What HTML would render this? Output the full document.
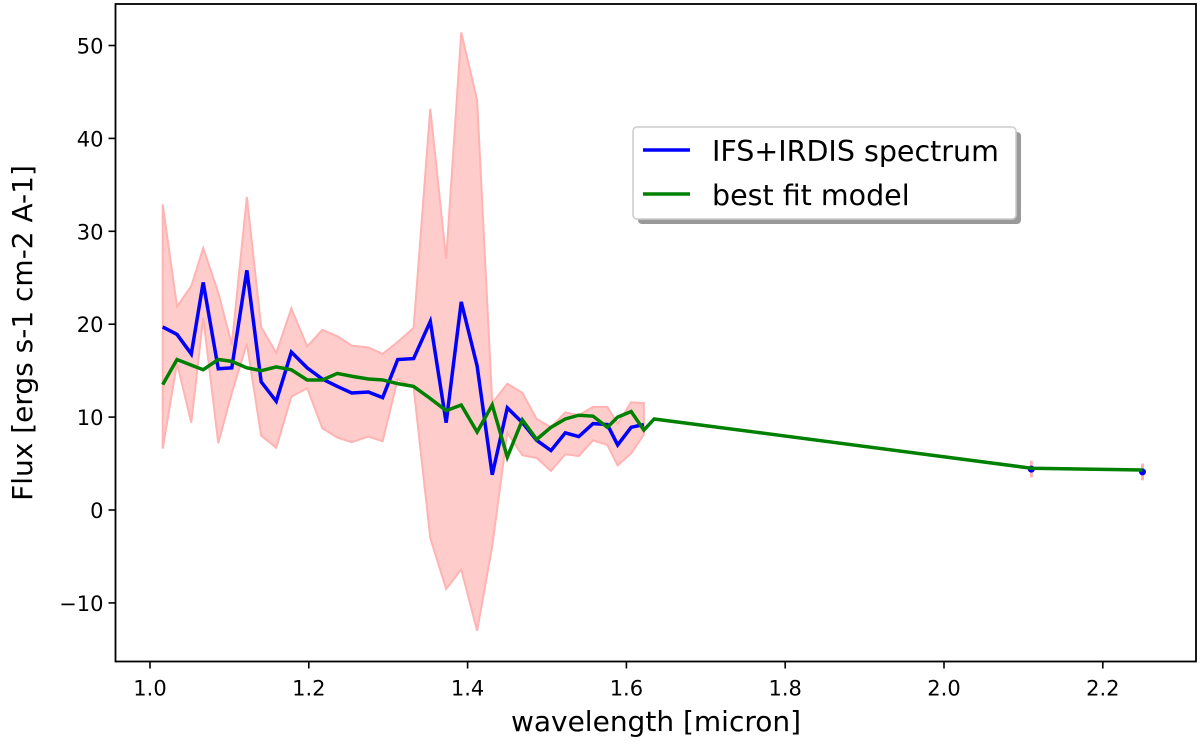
<!DOCTYPE html>
<html><head><meta charset="utf-8"><style>
html,body{margin:0;padding:0;background:#fff;}
svg{display:block;font-family:"DejaVu Sans","Liberation Sans",sans-serif;}
</style></head><body>
<svg id="chart" width="1200" height="745" viewBox="0 0 1200 745" xmlns="http://www.w3.org/2000/svg">
<g id="plot"></g>
</svg>
<script>
const wavelengths=[1.016,1.034,1.052,1.067,1.086,1.103,1.122,1.140,1.159,1.178,1.198,1.217,1.236,1.254,1.275,1.293,1.312,1.332,1.353,1.373,1.392,1.412,1.431,1.450,1.469,1.487,1.505,1.523,1.540,1.558,1.576,1.589,1.606,1.622];
const fluxValues=[19.7,18.9,16.8,24.5,15.2,15.3,25.8,13.8,11.7,17.0,15.3,14.1,13.3,12.6,12.7,12.1,16.2,16.3,20.3,9.4,22.4,15.5,3.8,11.0,9.4,7.5,6.4,8.3,7.9,9.3,9.2,7.0,8.9,9.2];
const upperBound=[32.9,21.9,24.1,28.2,23.4,17.8,33.7,19.7,16.9,21.7,17.6,19.4,18.7,17.7,17.5,16.8,18.1,19.6,43.2,27.0,51.4,44.1,11.5,13.6,12.6,9.8,8.9,10.5,10.2,11.1,11.1,9.3,11.6,11.5];
const lowerBound=[6.6,15.8,9.4,20.7,7.2,12.6,17.9,8.0,6.7,12.2,13.1,8.8,7.8,7.3,7.9,7.4,14.1,13.2,-3.0,-8.5,-6.4,-13.0,-3.9,8.3,5.9,5.6,4.2,6.0,5.8,7.5,7.0,4.8,6.1,8.1];
const modelWavelengths=[1.016,1.034,1.052,1.067,1.086,1.103,1.122,1.140,1.159,1.178,1.198,1.217,1.236,1.254,1.275,1.293,1.312,1.332,1.353,1.373,1.392,1.412,1.431,1.450,1.469,1.487,1.505,1.523,1.540,1.558,1.576,1.589,1.606,1.622,1.635,2.11,2.25];
const modelValues=[13.5,16.2,15.6,15.1,16.2,16.0,15.3,15.0,15.4,15.1,14.0,14.0,14.7,14.4,14.1,14.0,13.6,13.3,12.0,10.7,11.3,8.4,11.3,5.7,9.7,7.6,8.9,9.8,10.2,10.1,8.9,10.0,10.6,8.6,9.8,4.5,4.3];
const photWavelengths=[2.11,2.25];
const photValues=[4.4,4.1];
const photErrors=[0.9,0.9];
const xTicks=[1.0,1.2,1.4,1.6,1.8,2.0,2.2];
const xTickLabels=["1.0","1.2","1.4","1.6","1.8","2.0","2.2"];
const yTicks=[-10,0,10,20,30,40,50];
const yTickLabels=["\u221210","0","10","20","30","40","50"];

const L=115.5,R=1196,T=4,B=661.5;
const xs=v=>150+(v-1.0)*794;
const ys=v=>510-v*9.29;
const NS="http://www.w3.org/2000/svg";
const g=document.getElementById('plot');
function mk(tag,attrs,parent){const e=document.createElementNS(NS,tag);for(const k in attrs)e.setAttribute(k,attrs[k]);(parent||g).appendChild(e);return e;}

let pts=wavelengths.map((w,i)=>xs(w)+','+ys(upperBound[i]));
for(let i=wavelengths.length-1;i>=0;i--)pts.push(xs(wavelengths[i])+','+ys(lowerBound[i]));
const band=mk('polygon',{points:pts.join(' '),fill:'#ffcccc',stroke:'#ffb3b3','stroke-width':2});



photWavelengths.forEach((w,i)=>{
 const eb=mk('line',{x1:xs(w),x2:xs(w),y1:ys(photValues[i]+photErrors[i]),y2:ys(photValues[i]-photErrors[i]),stroke:'#ffb3b3','stroke-width':3});
 
 
});

const sp=mk('polyline',{points:wavelengths.map((w,i)=>xs(w)+','+ys(fluxValues[i])).join(' '),fill:'none',stroke:'#0000ff','stroke-width':3.5});



photWavelengths.forEach((w,i)=>{
 const d=mk('circle',{cx:xs(w),cy:ys(photValues[i]),r:3.5,fill:'#0000ff'});
 
 
});

const md=mk('polyline',{points:modelWavelengths.map((w,i)=>xs(w)+','+ys(modelValues[i])).join(' '),fill:'none',stroke:'#008000','stroke-width':3.5});



const fr=mk('rect',{x:L,y:T,width:R-L,height:B-T,fill:'none',stroke:'#000','stroke-width':1.8});



xTicks.forEach((t,i)=>{
 const x=xs(t);
 const tk=mk('line',{x1:x,x2:x,y1:B,y2:B+7,stroke:'#000','stroke-width':1.6});
 
 
 const lb=mk('text',{x:x,y:B+34,'text-anchor':'middle','font-size':21,fill:'#000'});
 lb.textContent=xTickLabels[i];
 
 
});
yTicks.forEach((t,i)=>{
 const y=ys(t);
 const tk=mk('line',{x1:L-7,x2:L,y1:y,y2:y,stroke:'#000','stroke-width':1.6});
 
 
 const lb=mk('text',{x:L-12,y:y+8,'text-anchor':'end','font-size':21,fill:'#000'});
 lb.textContent=yTickLabels[i];
 
 
});

const xt=mk('text',{x:656,y:731,'text-anchor':'middle','font-size':28,fill:'#000'});
xt.textContent='wavelength [micron]';


const yt=mk('text',{x:0,y:0,'text-anchor':'middle','font-size':28,fill:'#000',transform:'translate(32,333) rotate(-90)'});
yt.textContent='Flux [ergs s-1 cm-2 A-1]';



const lg=mk('g',{});


mk('rect',{x:638,y:132,width:383,height:92,rx:4,fill:'#999'},lg);
mk('rect',{x:633,y:127,width:383,height:92,rx:4,fill:'#fff',stroke:'#ccc','stroke-width':1.5},lg);
const l1=mk('line',{x1:643,x2:690,y1:150,y2:150,stroke:'#0000ff','stroke-width':3.5},lg);


const t1=mk('text',{x:712,y:161,'font-size':28.5,fill:'#000'},lg);
t1.textContent='IFS+IRDIS spectrum';


const l2=mk('line',{x1:643,x2:690,y1:194,y2:194,stroke:'#008000','stroke-width':3.5},lg);


const t2=mk('text',{x:712,y:205,'font-size':28.5,fill:'#000'},lg);
t2.textContent='best fit model';


</script>
</body></html>
